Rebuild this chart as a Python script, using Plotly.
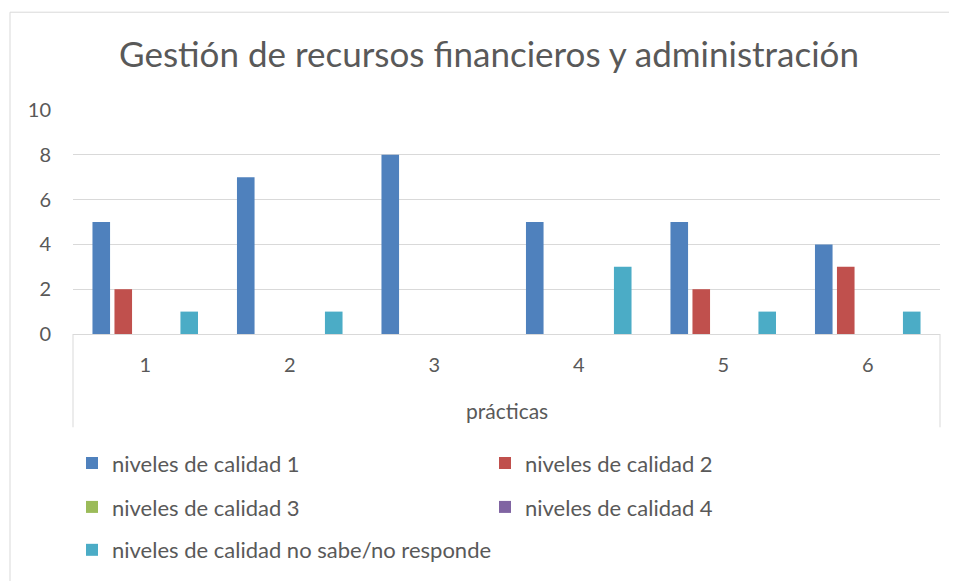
import plotly.graph_objects as go

categories = ["1", "2", "3", "4", "5", "6"]
series_names = [
    "niveles de calidad 1",
    "niveles de calidad 2",
    "niveles de calidad 3",
    "niveles de calidad 4",
    "niveles de calidad no sabe/no responde",
]
nivel1 = [5, 7, 8, 5, 5, 4]
nivel2 = [2, 0, 0, 0, 2, 3]
nivel3 = [0, 0, 0, 0, 0, 0]
nivel4 = [0, 0, 0, 0, 0, 0]
no_sabe = [1, 1, 0, 3, 1, 1]
colors = ["#4F81BD", "#C0504D", "#9BBB59", "#8064A2", "#4BACC6"]
legend_ids = ["legend", "legend", "legend2", "legend2", "legend3"]

title_text = "Gestión de recursos financieros y administración"
x_title = "prácticas"

FONT = "Lato"
TXT = "#595959"
GRID = "#D9D9D9"

OFF = 8  # page body margin
W, H = 957 - OFF, 581 - OFF
PLOT_L, PLOT_R, PLOT_T, PLOT_B = 73, 940, 110, 334.5  # in window pixels
L, R, T, B = PLOT_L - OFF, W - (PLOT_R - OFF), PLOT_T - OFF, H - (PLOT_B - OFF)
PW, PH = W - L - R, H - T - B


def px_x(px):
    return (px - OFF - L) / PW


def px_y(py):
    return (H - B - (py - OFF)) / PH


fig = go.Figure()
for name, vals, col, lg in zip(series_names, [nivel1, nivel2, nivel3, nivel4, no_sabe], colors, legend_ids):
    fig.add_trace(go.Bar(x=categories, y=vals, name=name, marker_color=col,
                         marker_line_width=0, legend=lg))

legend_common = dict(orientation="h", xanchor="left", yanchor="middle",
                     font=dict(family=FONT, size=22, color=TXT),
                     bgcolor="rgba(0,0,0,0)", entrywidthmode="pixels",
                     traceorder="normal", itemwidth=30)

fig.update_layout(
    width=W, height=H,
    margin=dict(l=L, r=R, t=T, b=B, autoexpand=False),
    paper_bgcolor="white", plot_bgcolor="white",
    barmode="group", bargap=0.239, bargroupgap=0.2,
    title=dict(text=title_text, x=(489 - OFF) / W, xanchor="center",
               y=1 - (55 - OFF) / H, yanchor="middle",
               font=dict(family=FONT, size=35, color=TXT)),
    font=dict(family=FONT, color=TXT),
    xaxis=dict(type="category", showgrid=False, showline=True, linecolor=GRID, linewidth=1,
               ticks="", tickfont=dict(family=FONT, size=20, color=TXT), ticklabelstandoff=13),
    yaxis=dict(range=[0, 10], dtick=2, showgrid=True, gridcolor=GRID, gridwidth=1,
               zeroline=False, showline=False, ticks="",
               tickfont=dict(family=FONT, size=20, color=TXT), ticklabelstandoff=21),
    legend=dict(x=px_x(72), y=px_y(464), entrywidth=368, **legend_common),
    legend2=dict(x=px_x(72), y=px_y(508), entrywidth=368, **legend_common),
    legend3=dict(x=px_x(72), y=px_y(551), entrywidth=560, **legend_common),
    showlegend=True,
)

fig.add_annotation(text=x_title, xref="paper", yref="paper", x=0.5, y=px_y(411),
                   yanchor="middle", xanchor="center",
                   showarrow=False, font=dict(family=FONT, size=21, color=TXT))

# category axis boundary lines and chart border
for xp in (PLOT_L, PLOT_R):
    fig.add_shape(type="line", xref="paper", yref="paper", x0=px_x(xp), x1=px_x(xp),
                  y0=px_y(PLOT_B), y1=px_y(428), line=dict(color=GRID, width=1))
fig.add_shape(type="rect", xref="paper", yref="paper", x0=px_x(10), x1=px_x(957 + 5),
              y0=px_y(581 + 5), y1=px_y(12), line=dict(color=GRID, width=1))

fig.write_html("out.html")
